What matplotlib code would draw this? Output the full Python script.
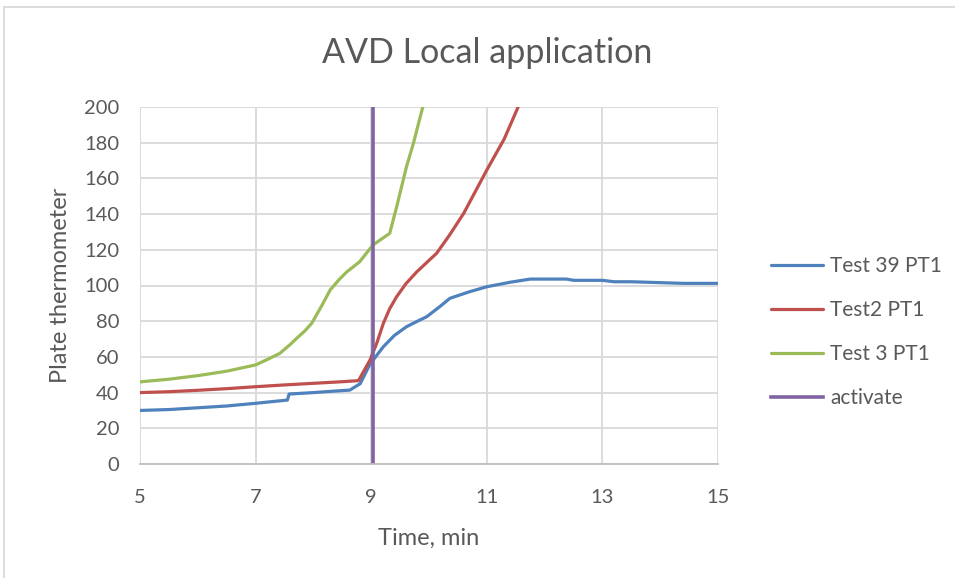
import matplotlib
matplotlib.use("Agg")
import matplotlib.pyplot as plt
from matplotlib.patches import Rectangle

plt.rcParams['font.family'] = ['Lato', 'DejaVu Sans']

# Test 39 PT1 (blue)
t39_x = [5.0, 5.5, 6.0, 6.5, 7.0, 7.3, 7.55, 7.58, 8.0, 8.3, 8.63, 8.81, 8.98, 9.21,
         9.4, 9.61, 9.8, 9.96, 10.2, 10.36, 10.7, 11.0, 11.4, 11.75, 12.38, 12.5, 13.0,
         13.2, 13.5, 14.4, 15.0]
t39_y = [30, 30.5, 31.5, 32.5, 34, 35, 35.8, 39.2, 40, 40.7, 41.4, 45, 56, 65.7,
         72, 76.9, 80, 82.5, 88.5, 92.8, 96.5, 99.3, 101.8, 103.6, 103.6, 102.9, 102.9,
         102.1, 102.1, 101.2, 101.2]

# Test2 PT1 (red)
t2_x = [5.0, 5.5, 6.0, 6.5, 7.0, 7.5, 8.0, 8.5, 8.78, 8.98, 9.1, 9.21, 9.32, 9.44, 9.6,
        9.79, 10.13, 10.35, 10.6, 11.0, 11.3, 11.55]
t2_y = [40, 40.5, 41.3, 42.2, 43.3, 44.3, 45.2, 46.1, 46.7, 58.3, 68, 78.8, 87, 93.7, 101,
        107.7, 118, 128, 140.4, 164.7, 182, 200.6]

# Test 3 PT1 (green)
t3_x = [5.0, 5.5, 6.0, 6.5, 7.0, 7.2, 7.42, 7.6, 7.71, 7.85, 7.97, 8.15, 8.29, 8.45,
        8.58, 8.8, 9.03, 9.32, 9.44, 9.61, 9.73, 9.9]
t3_y = [46, 47.5, 49.5, 52, 55.5, 58.5, 62, 67, 70.4, 74.5, 78.8, 89, 97.5, 103.5,
        107.7, 113.3, 122.7, 129.2, 144, 166.5, 179.6, 201]

# activate (purple)
act_x = [9.03, 9.03]
act_y = [0, 200]

fig = plt.figure(figsize=(9.55, 5.78), dpi=100)
ax = fig.add_axes([140 / 955, 1 - 464 / 578, 578 / 955, 357 / 578])

ax.plot(t39_x, t39_y, color='#4F81BD', lw=2.3, label='Test 39 PT1', solid_capstyle='round')
ax.plot(t2_x, t2_y, color='#C0504D', lw=2.3, label='Test2 PT1', solid_capstyle='round')
ax.plot(t3_x, t3_y, color='#9BBB59', lw=2.3, label='Test 3 PT1', solid_capstyle='round')
ax.plot(act_x, act_y, color='#8064A2', lw=2.6, label='activate')

ax.set_xlim(5, 15)
ax.set_ylim(0, 200)
ax.set_xticks(range(5, 16, 2))
ax.set_yticks(range(0, 201, 20))
ax.grid(True, color='#D9D9D9', lw=1.3)
ax.set_axisbelow(True)
for s in ax.spines.values():
    s.set_visible(False)
ax.spines['bottom'].set_visible(True)
ax.spines['bottom'].set_color('#BFBFBF')
ax.spines['bottom'].set_linewidth(1.3)
ax.tick_params(length=0, labelsize=14.5, colors='#595959')
ax.tick_params(axis='x', pad=18)
ax.tick_params(axis='y', pad=15)

ax.set_xlabel('Time, min', fontsize=17, color='#595959', labelpad=16)
ax.set_ylabel('Plate thermometer', fontsize=17, color='#595959', labelpad=9)

fig.text(487 / 955, 1 - 53 / 578, 'AVD Local application', fontsize=24.5,
         color='#595959', ha='center', va='center')

leg = ax.legend(loc='center left', bbox_to_anchor=(1.073, 0.37), frameon=False,
                fontsize=15, labelcolor='#595959', handlelength=2.5,
                handletextpad=0.35, labelspacing=1.15, borderpad=0)

fig.patches.append(Rectangle((4 / 955, -0.1), 1.2, 1 - 7 / 578 + 0.1,
                             transform=fig.transFigure, fill=False,
                             edgecolor='#D9D9D9', lw=1.3))

fig.savefig('out.png', dpi=100)
